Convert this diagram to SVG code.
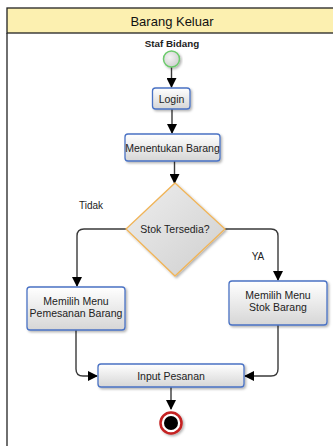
<svg xmlns="http://www.w3.org/2000/svg" width="333" height="446" viewBox="0 0 333 446">
<defs>
<linearGradient id="gBox" x1="0" y1="0" x2="0" y2="1">
<stop offset="0" stop-color="#ffffff"/>
<stop offset="1" stop-color="#d6d6d6"/>
</linearGradient>
<linearGradient id="gDia" x1="0" y1="0" x2="1" y2="1">
<stop offset="0" stop-color="#eeeeee"/>
<stop offset="1" stop-color="#cfcfcf"/>
</linearGradient>
<radialGradient id="gStart" cx="0.4" cy="0.4" r="0.7">
<stop offset="0" stop-color="#f4f4f4"/>
<stop offset="1" stop-color="#cccccc"/>
</radialGradient>
<filter id="sh" x="-20%" y="-20%" width="140%" height="150%">
<feDropShadow dx="1.5" dy="1.5" stdDeviation="1" flood-color="#000" flood-opacity="0.3"/>
</filter>
<marker id="arr" markerWidth="10" markerHeight="10" refX="9" refY="5" orient="auto" markerUnits="userSpaceOnUse">
<path d="M0,0 L10,5 L0,10 Z" fill="#000"/>
</marker>
</defs>
<style>
.box{fill:url(#gBox);stroke:#4a72c4;stroke-width:1.3;filter:url(#sh)}
.t{font-family:"Liberation Sans",Arial,sans-serif;font-size:10.5px;fill:#222;text-anchor:middle}
.c{fill:none;stroke:#3a3a3a;stroke-width:1.4;marker-end:url(#arr)}
</style>
<rect width="333" height="446" fill="#ffffff"/>
<g id="frame">
<rect x="7" y="8" width="340" height="25" fill="#fcf0b0" stroke="#222" stroke-width="1.3"/>
<line x1="7" y1="33" x2="7" y2="450" stroke="#222" stroke-width="1.3"/>
<text x="172" y="26" class="t" style="font-size:13px;fill:#111">Barang Keluar</text>
</g>
<g id="connectors">
<path class="c" d="M171.5,67 L171.5,87"/>
<path class="c" d="M172,109 L172,133"/>
<path class="c" d="M174.5,161 L174.5,183"/>
<path class="c" d="M126,229 L84,229 Q77,229 77,236 L77,286"/>
<path class="c" d="M225,229 L271,229 Q278,229 278,236 L278,280"/>
<path class="c" d="M76,330 L76,369 Q76,376 83,376 L97,376"/>
<path class="c" d="M278,325 L278,369 Q278,376 271,376 L245,376"/>
<path class="c" d="M171,387 L171,409"/>
</g>
<g id="start">
<text x="172" y="47" class="t" style="font-size:9.8px;font-weight:bold;fill:#222">Staf Bidang</text>
<circle cx="171.5" cy="59" r="8" fill="url(#gStart)" stroke="#6ccb6c" stroke-width="1.5" filter="url(#sh)"/>
</g>
<g id="login">
<rect class="box" x="152.5" y="88" width="37.5" height="21" rx="3"/>
<text x="171.5" y="102.5" class="t">Login</text>
</g>
<g id="menentukan">
<rect class="box" x="125" y="134" width="95" height="27" rx="3"/>
<text x="172.5" y="151.5" class="t">Menentukan Barang</text>
</g>
<g id="decision">
<path d="M175,183 L225,229 L175,276 L126,229 Z" fill="url(#gDia)" stroke="#f0b458" stroke-width="1.3" filter="url(#sh)"/>
<text x="175" y="233" class="t">Stok Tersedia?</text>
</g>
<g id="labels">
<text x="91" y="209" class="t" style="font-size:10px">Tidak</text>
<text x="258" y="260" class="t" style="font-size:10px">YA</text>
</g>
<g id="pemesanan">
<rect class="box" x="27" y="287" width="98" height="43" rx="3"/>
<text x="76" y="305" class="t">Memilih Menu</text>
<text x="76" y="317" class="t">Pemesanan Barang</text>
</g>
<g id="stok">
<rect class="box" x="229" y="281" width="98" height="44" rx="3"/>
<text x="278" y="299" class="t">Memilih Menu</text>
<text x="278" y="311" class="t">Stok Barang</text>
</g>
<g id="input">
<rect class="box" x="98" y="364" width="146" height="23" rx="3"/>
<text x="171" y="379.5" class="t">Input Pesanan</text>
</g>
<g id="end">
<circle cx="171" cy="423" r="10.5" fill="#ffffff" stroke="#c42020" stroke-width="2.5" filter="url(#sh)"/>
<circle cx="171" cy="423" r="7" fill="#000000"/>
</g>
</svg>
